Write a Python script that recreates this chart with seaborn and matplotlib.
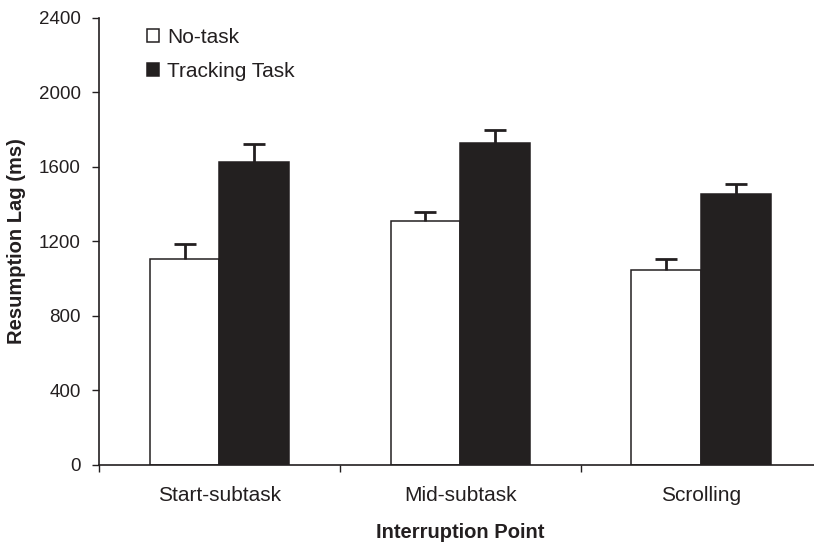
import matplotlib

matplotlib.use("Agg")
import matplotlib.pyplot as plt
import pandas as pd
import seaborn as sns

# values (ms)
points = ["Start-subtask", "Mid-subtask", "Scrolling"]
conditions = ["No-task", "Tracking Task"]
no_task = [1104, 1312, 1047]
tracking = [1628, 1731, 1453]
no_task_err = [82, 45, 61]
tracking_err = [97, 68, 57]

INK = "#231f20"

sns.set_theme(style="ticks")
plt.rcParams["font.family"] = ["Liberation Sans", "DejaVu Sans"]

df = pd.DataFrame({
    "point": points * 2,
    "condition": [conditions[0]] * 3 + [conditions[1]] * 3,
    "lag": no_task + tracking,
})

fig = plt.figure(figsize=(8.14, 5.45), dpi=100)
ax = fig.add_axes([0.1216, 0.1468, 0.888, 0.8202])

sns.barplot(data=df, x="point", y="lag", hue="condition", order=points,
            hue_order=conditions, palette={"No-task": "white", "Tracking Task": INK},
            width=0.58, errorbar=None, edgecolor=INK, linewidth=1.1, ax=ax)

# one-sided (upper) error bars on top of each bar
for cont, errs in zip(ax.containers, [no_task_err, tracking_err]):
    xs = [b.get_x() + b.get_width() / 2 for b in cont]
    ys = [b.get_height() for b in cont]
    eb = ax.errorbar(xs, ys, yerr=[[0] * len(errs), errs], fmt="none", ecolor=INK,
                     elinewidth=2, capsize=8, capthick=2, zorder=1)
    eb[1][0].set_visible(False)  # drop the lower cap

ax.set_ylim(0, 2400)
ax.set_yticks(range(0, 2401, 400))
ax.set_xlim(-0.5, 2.5)
ax.set_xticks([-0.5, 0.5, 1.5, 2.5])
ax.set_xticklabels([])
ax.set_xticks([0, 1, 2], minor=True)
ax.set_xticklabels(points, minor=True)
ax.tick_params(axis="x", which="minor", length=0, pad=15, labelsize=15, labelcolor=INK)
ax.tick_params(axis="x", which="major", length=5, width=1, direction="out", color=INK)
ax.tick_params(axis="y", length=5, width=1, pad=8, labelsize=13.5, labelcolor=INK,
               color=INK)
for s in ["top", "right"]:
    ax.spines[s].set_visible(False)
for s in ["left", "bottom"]:
    ax.spines[s].set_color(INK)
    ax.spines[s].set_linewidth(1.2)

ax.set_ylabel("Resumption Lag (ms)", fontsize=14.5, fontweight="bold", labelpad=9,
              color=INK)
ax.set_xlabel("Interruption Point", fontsize=14.5, fontweight="bold", labelpad=13,
              color=INK)

leg = ax.legend(loc="upper left", bbox_to_anchor=(0.055, 0.996), frameon=False,
                fontsize=15, handlelength=0.55, handleheight=0.55, handletextpad=0.43,
                labelspacing=0.72, borderaxespad=0)
for t in leg.get_texts():
    t.set_color(INK)

fig.savefig("out.png", dpi=100)
